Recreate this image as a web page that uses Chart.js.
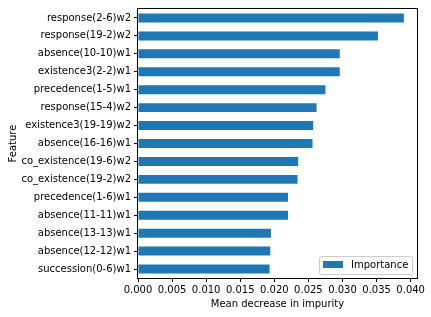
<!DOCTYPE html>
<html>
<head>
<meta charset="utf-8">
<script src="https://cdn.jsdelivr.net/npm/chart.js@4.4.0/dist/chart.umd.min.js"></script>
<style>
html,body{margin:0;padding:0;background:#fff;}
#wrap{width:431px;height:317px;}
</style>
</head>
<body>
<div id="wrap"><canvas id="c" width="431" height="317"></canvas></div>
<script>
const features = [
  "response(2-6)w2",
  "response(19-2)w2",
  "absence(10-10)w1",
  "existence3(2-2)w1",
  "precedence(1-5)w1",
  "response(15-4)w2",
  "existence3(19-19)w2",
  "absence(16-16)w1",
  "co_existence(19-6)w2",
  "co_existence(19-2)w2",
  "precedence(1-6)w1",
  "absence(11-11)w1",
  "absence(13-13)w1",
  "absence(12-12)w1",
  "succession(0-6)w1"
];
const importance = [
  0.0390, 0.0352, 0.0296, 0.0296, 0.0275, 0.0262, 0.0257, 0.0256,
  0.0235, 0.0234, 0.0220, 0.0220, 0.0195, 0.0194, 0.0193
];
const seriesName = "Importance";
const xTitle = "Mean decrease in impurity";
const yTitle = "Feature";

const FONT = "DejaVu Sans";
const BLUE = "#1f77b4";

const framePlugin = {
  id: "frameAndLegend",
  afterDraw(chart) {
    const ctx = chart.ctx;
    const a = chart.chartArea;
    ctx.save();
    ctx.strokeStyle = "#000";
    ctx.lineWidth = 1;
    ctx.strokeRect(Math.round(a.left) - 0.5, Math.round(a.top) - 0.5,
                   Math.round(a.right - a.left) + 1, Math.round(a.bottom - a.top) + 1);
    // legend (lower right inside plot area)
    const ds = chart.data.datasets[0];
    ctx.font = "10px '" + FONT + "'";
    const bw = 93;
    const bh = 18;
    const bx = Math.round(a.right) - 98;
    const by = Math.round(a.bottom) - 22;
    const r = 2;
    ctx.beginPath();
    ctx.moveTo(bx + r + 0.5, by + 0.5);
    ctx.lineTo(bx + bw - r + 0.5, by + 0.5);
    ctx.arcTo(bx + bw + 0.5, by + 0.5, bx + bw + 0.5, by + r + 0.5, r);
    ctx.lineTo(bx + bw + 0.5, by + bh - r + 0.5);
    ctx.arcTo(bx + bw + 0.5, by + bh + 0.5, bx + bw - r + 0.5, by + bh + 0.5, r);
    ctx.lineTo(bx + r + 0.5, by + bh + 0.5);
    ctx.arcTo(bx + 0.5, by + bh + 0.5, bx + 0.5, by + bh - r + 0.5, r);
    ctx.lineTo(bx + 0.5, by + r + 0.5);
    ctx.arcTo(bx + 0.5, by + 0.5, bx + r + 0.5, by + 0.5, r);
    ctx.closePath();
    ctx.fillStyle = "rgba(255,255,255,0.8)";
    ctx.fill();
    ctx.strokeStyle = "#cccccc";
    ctx.stroke();
    ctx.fillStyle = ds.backgroundColor;
    ctx.fillRect(bx + 4, by + 5, 20, 7);
    ctx.fillStyle = "#000";
    ctx.textBaseline = "middle";
    ctx.textAlign = "left";
    ctx.fillText(ds.label, bx + 32, by + bh / 2 + 0.5);
    ctx.restore();
  }
};

new Chart(document.getElementById("c"), {
  type: "bar",
  data: {
    labels: features,
    datasets: [{
      label: seriesName,
      data: importance,
      backgroundColor: BLUE,
      borderWidth: 0,
      categoryPercentage: 0.5,
      barPercentage: 1.0
    }]
  },
  options: {
    indexAxis: "y",
    responsive: false,
    animation: false,
    devicePixelRatio: 1,
    layout: { padding: { left: 0, right: 14, top: 7, bottom: 0 } },
    plugins: { legend: { display: false }, tooltip: { enabled: false } },
    scales: {
      x: {
        type: "linear",
        min: 0,
        max: 0.04093,
        afterFit(scale) { scale.height = 39; },
        border: { display: false },
        grid: { drawOnChartArea: false, drawTicks: true, tickLength: 4, color: "#000", lineWidth: 1 },
        ticks: {
          stepSize: 0.005,
          includeBounds: false,
          color: "#000",
          padding: 2,
          maxRotation: 0,
          font: { family: FONT, size: 10 },
          callback: (v) => Number(v).toFixed(3)
        },
        title: {
          display: true,
          text: xTitle,
          color: "#000",
          font: { family: FONT, size: 10 },
          padding: { top: 0, bottom: 7 }
        }
      },
      y: {
        type: "category",
        afterFit(scale) { scale.width = 138; },
        border: { display: false },
        grid: { offset: false, drawOnChartArea: false, drawTicks: true, tickLength: 4, color: "#000", lineWidth: 1 },
        ticks: {
          autoSkip: false,
          color: "#000",
          padding: 3,
          font: { family: FONT, size: 10 }
        },
        title: {
          display: true,
          text: yTitle,
          color: "#000",
          font: { family: FONT, size: 10 },
          padding: { top: 7, bottom: 0 }
        }
      }
    }
  },
  plugins: [framePlugin]
});
</script>
</body>
</html>
